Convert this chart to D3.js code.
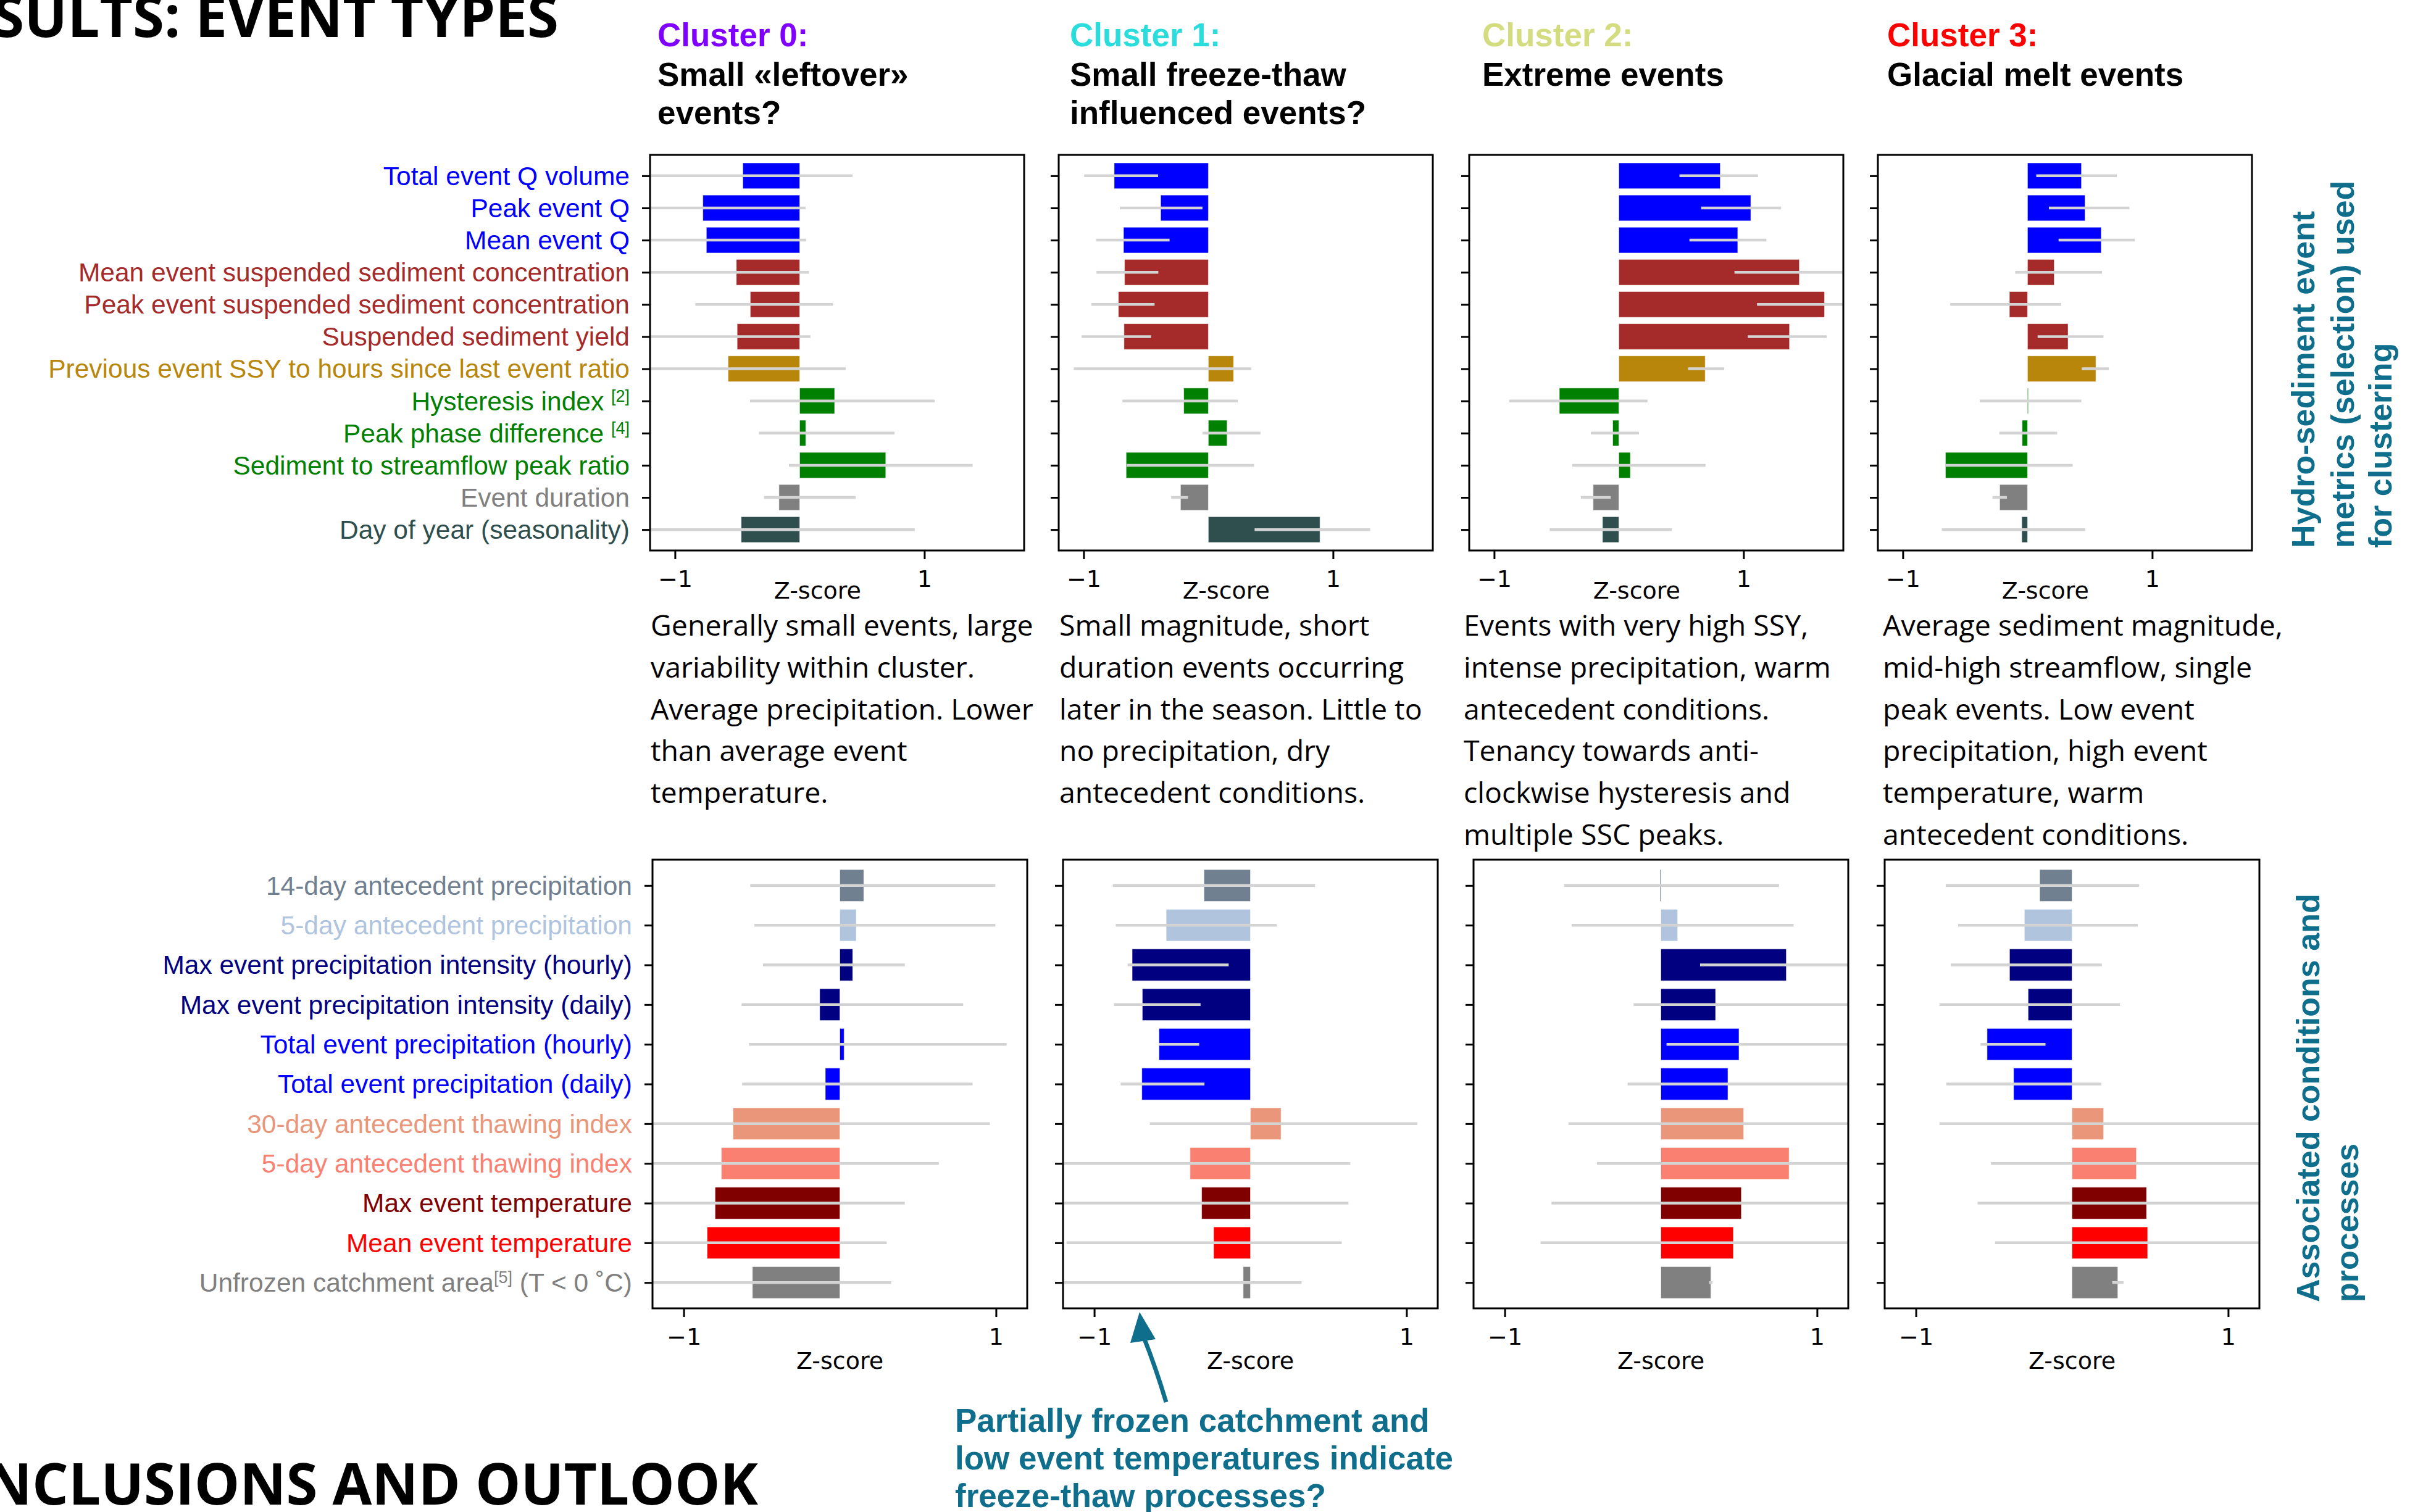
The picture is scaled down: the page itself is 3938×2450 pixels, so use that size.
<!DOCTYPE html>
<html><head><meta charset="utf-8">
<script src="https://cdn.jsdelivr.net/npm/d3@7"></script>
<style>body{margin:0;background:#fff} text{white-space:pre}</style>
</head><body>
<svg id="c" width="3938" height="2450" xmlns="http://www.w3.org/2000/svg"></svg>
<script>
// ---------------- DATA ----------------
const clusterNames = ["Cluster 0:", "Cluster 1:", "Cluster 2:", "Cluster 3:"];
const clusterColors = ["#8000ff", "#2adcdc", "#d4dc80", "#ff0000"];
const clusterTitles = [["Small «leftover»", "events?"], ["Small freeze-thaw", "influenced events?"], ["Extreme events"], ["Glacial melt events"]];
const clusterDescriptions = [
  ["Generally small events, large", "variability within cluster.", "Average precipitation. Lower", "than average event", "temperature."],
  ["Small magnitude, short", "duration events occurring", "later in the season. Little to", "no precipitation, dry", "antecedent conditions."],
  ["Events with very high SSY,", "intense precipitation, warm", "antecedent conditions.", "Tenancy towards anti-", "clockwise hysteresis and", "multiple SSC peaks."],
  ["Average sediment magnitude,", "mid-high streamflow, single", "peak events. Low event", "precipitation, high event", "temperature, warm", "antecedent conditions."]
];

const topMetrics = [
  ["Total event Q volume"], ["Peak event Q"], ["Mean event Q"],
  ["Mean event suspended sediment concentration"], ["Peak event suspended sediment concentration"],
  ["Suspended sediment yield"], ["Previous event SSY to hours since last event ratio"],
  ["Hysteresis index ", "[2]"], ["Peak phase difference ", "[4]"], ["Sediment to streamflow peak ratio"],
  ["Event duration"], ["Day of year (seasonality)"]
];
const topColors = ["blue", "blue", "blue", "brown", "brown", "brown", "darkgoldenrod", "green", "green", "green", "gray", "darkslategray"];
const topMean = [
  [-0.456, -0.776, -0.748, -0.508, -0.396, -0.501, -0.574, 0.280, 0.049, 0.690, -0.166, -0.469],
  [-0.755, -0.382, -0.680, -0.672, -0.721, -0.676, 0.202, -0.197, 0.150, -0.659, -0.223, 0.895],
  [0.813, 1.058, 0.953, 1.447, 1.649, 1.368, 0.692, -0.477, -0.049, 0.092, -0.206, -0.131],
  [0.432, 0.461, 0.591, 0.214, -0.145, 0.325, 0.548, 0.006, -0.043, -0.658, -0.223, -0.046]
];
const topLow = [
  [-1.3, -1.3, -1.3, -1.3, -0.837, -1.3, -1.3, -0.398, -0.327, -0.086, -0.286, -1.3],
  [-0.996, -0.710, -0.899, -0.897, -0.938, -1.017, -1.079, -0.689, -0.047, -0.655, -0.298, 0.371],
  [0.486, 0.660, 0.566, 0.927, 1.108, 1.034, 0.555, -0.880, -0.224, -0.374, -0.305, -0.555],
  [0.070, 0.171, 0.249, -0.099, -0.620, 0.081, 0.435, -0.383, -0.226, -0.658, -0.281, -0.687]
];
const topHigh = [
  [0.424, 0.047, 0.052, 0.075, 0.265, 0.086, 0.370, 1.082, 0.761, 1.387, 0.449, 0.923],
  [-0.403, -0.047, -0.311, -0.401, -0.431, -0.459, 0.345, 0.236, 0.418, 0.367, -0.163, 1.298],
  [1.116, 1.301, 1.183, 1.9, 1.9, 1.667, 0.845, 0.230, 0.161, 0.695, -0.065, 0.424],
  [0.716, 0.817, 0.861, 0.597, 0.270, 0.609, 0.652, 0.432, 0.238, 0.362, -0.165, 0.464]
];

const bottomMetrics = [
  ["14-day antecedent precipitation"], ["5-day antecedent precipitation"],
  ["Max event precipitation intensity (hourly)"], ["Max event precipitation intensity (daily)"],
  ["Total event precipitation (hourly)"], ["Total event precipitation (daily)"],
  ["30-day antecedent thawing index"], ["5-day antecedent thawing index"],
  ["Max event temperature"], ["Mean event temperature"],
  ["Unfrozen catchment area", "[5]", " (T < 0 ˚C)"]
];
const bottomColors = ["slategray", "lightsteelblue", "navy", "navy", "blue", "blue", "darksalmon", "salmon", "maroon", "red", "gray"];
const bottomMean = [
  [0.153, 0.105, 0.082, -0.129, 0.027, -0.093, -0.684, -0.759, -0.799, -0.850, -0.560],
  [-0.297, -0.539, -0.757, -0.692, -0.585, -0.695, 0.196, -0.386, -0.312, -0.235, -0.046],
  [-0.006, 0.107, 0.803, 0.350, 0.500, 0.429, 0.530, 0.821, 0.515, 0.464, 0.320],
  [-0.207, -0.305, -0.400, -0.281, -0.544, -0.374, 0.202, 0.412, 0.477, 0.484, 0.293]
];
const bottomLow = [
  [-0.574, -0.547, -0.492, -0.629, -0.583, -0.626, -1.3, -1.3, -1.3, -1.3, -1.3],
  [-0.881, -0.862, -0.786, -0.874, -0.585, -0.831, -0.644, -1.3, -1.3, -1.178, -1.3],
  [-0.620, -0.572, 0.251, -0.175, 0.036, -0.213, -0.592, -0.409, -0.701, -0.771, 0.309],
  [-0.809, -0.730, -0.777, -0.849, -0.586, -0.805, -0.849, -0.519, -0.605, -0.493, 0.258]
];
const bottomHigh = [
  [0.996, 0.996, 0.416, 0.790, 1.068, 0.850, 0.961, 0.634, 0.416, 0.300, 0.329],
  [0.414, 0.168, -0.139, -0.319, -0.328, -0.294, 1.070, 0.640, 0.628, 0.585, 0.328],
  [0.757, 0.850, 1.3, 1.3, 1.3, 1.3, 1.3, 1.3, 1.3, 1.3, 0.330],
  [0.430, 0.421, 0.191, 0.307, -0.170, 0.188, 1.3, 1.3, 1.3, 1.3, 0.330]
];

const xTicks = [-1, 1];
const axisTitle = "Z-score";
const topSideTitle = ["Hydro-sediment event", "metrics (selection) used", "for clustering"];
const bottomSideTitle = ["Associated conditions and", "processes"];
const annotationLines = ["Partially frozen catchment and", "low event temperatures indicate", "freeze-thaw processes?"];

// ---------------- LAYOUT ----------------
const svg = d3.select("#c");
svg.append("rect").attr("width", 3938).attr("height", 2450).attr("fill", "#fff");
const defs = svg.append("defs");
const TEAL = "#0f6e8c";
const LABEL_FONT = "'Liberation Sans', Arial, sans-serif";

const topLayout = {lefts: [1053, 1715, 2380, 3042], top: 251, width: 606, height: 641, domain: [-1.2, 1.8], zOff: 29, zBase: 970};
const botLayout = {lefts: [1057, 1722, 2387, 3053], top: 1393, width: 607, height: 727, domain: [-1.2, 1.2], zOff: 0, zBase: 2218};

function drawLabel(sel, parts, color) {
  sel.attr("fill", color);
  parts.forEach((p, k) => {
    const t = sel.append("tspan").text(p);
    if (k === 1) t.attr("dy", -14).style("font-size", "27px");
    if (k === 2) t.attr("dy", 14);
  });
}

function drawRow(L, metrics, colors, means, lows, highs, tag) {
  L.lefts.forEach((left, c) => {
    const x = d3.scaleLinear().domain(L.domain).range([left, left + L.width]);
    const y = d3.scalePoint().domain(d3.range(metrics.length)).range([L.top, L.top + L.height]).padding(0.65);
    const bh = y.step() * 0.8;
    const cid = `clip-${tag}-${c}`;
    defs.append("clipPath").attr("id", cid).append("rect")
      .attr("x", left).attr("y", L.top).attr("width", L.width).attr("height", L.height);
    const g = svg.append("g");
    const gc = g.append("g").attr("clip-path", `url(#${cid})`);
    gc.selectAll("rect").data(means[c]).join("rect")
      .attr("x", d => x(Math.min(0, d)))
      .attr("width", d => Math.abs(x(d) - x(0)))
      .attr("y", (d, i) => y(i) - bh / 2)
      .attr("height", bh)
      .attr("fill", (d, i) => colors[i])
      .attr("stroke", "#fff").attr("stroke-opacity", 0.5).attr("stroke-width", 1);
    gc.selectAll("line").data(means[c]).join("line")
      .attr("x1", (d, i) => x(lows[c][i])).attr("x2", (d, i) => x(highs[c][i]))
      .attr("y1", (d, i) => y(i)).attr("y2", (d, i) => y(i))
      .attr("stroke", "#d3d3d3").attr("stroke-width", 4.5);
    g.append("rect").attr("x", left).attr("y", L.top).attr("width", L.width).attr("height", L.height)
      .attr("fill", "none").attr("stroke", "#000").attr("stroke-width", 3);
    const ax = g.append("g").attr("transform", `translate(0,${L.top + L.height})`)
      .call(d3.axisBottom(x).tickValues(xTicks).tickSize(14).tickPadding(18).tickFormat(d3.format("d")));
    ax.select(".domain").remove();
    ax.selectAll(".tick line").attr("stroke", "#000").attr("stroke-width", 3);
    ax.selectAll(".tick text").attr("fill", "#000").style("font", "38px 'DejaVu Sans'");
    const ay = g.append("g").attr("transform", `translate(${left},0)`)
      .call(d3.axisLeft(y).tickSize(13).tickFormat(""));
    ay.select(".domain").remove();
    ay.selectAll(".tick line").attr("stroke", "#000").attr("stroke-width", 3);
    g.append("text").attr("x", x(0) + L.zOff).attr("y", L.zBase).attr("text-anchor", "middle")
      .style("font", "38px 'DejaVu Sans'").attr("fill", "#000").text(axisTitle);
    if (c === 0) {
      metrics.forEach((parts, i) => {
        const t = g.append("text").attr("x", left - 33).attr("y", y(i)).attr("dy", "0.35em")
          .attr("text-anchor", "end").style("font", `42.5px ${LABEL_FONT}`);
        drawLabel(t, parts, colors[i]);
      });
    }
  });
}

drawRow(topLayout, topMetrics, topColors, topMean, topLow, topHigh, "top");
drawRow(botLayout, bottomMetrics, bottomColors, bottomMean, bottomLow, bottomHigh, "bot");

// headers
const headX = [1065, 1733, 2401, 3057];
clusterNames.forEach((n, c) => {
  svg.append("text").attr("x", headX[c]).attr("y", 75).style("font", `bold 53px ${LABEL_FONT}`)
    .attr("fill", clusterColors[c]).text(n);
  clusterTitles[c].forEach((line, k) => {
    svg.append("text").attr("x", headX[c]).attr("y", 139 + k * 62).style("font", `bold 53px ${LABEL_FONT}`)
      .attr("fill", "#000").text(line);
  });
});

// descriptions
const descX = [1054, 1716, 2371, 3050];
clusterDescriptions.forEach((lines, c) => {
  lines.forEach((line, k) => {
    svg.append("text").attr("x", descX[c]).attr("y", 1030 + k * 67.8)
      .style("font", "46.5px 'Open Sans'").attr("fill", "#000").text(line);
  });
});

// side titles
const topSideX = [3749, 3813, 3874];
topSideTitle.forEach((line, k) => {
  svg.append("text").attr("transform", `translate(${topSideX[k]},888) rotate(-90)`)
    .style("font", `bold 52px ${LABEL_FONT}`).attr("fill", TEAL).text(line);
});
const botSideX = [3757, 3820];
bottomSideTitle.forEach((line, k) => {
  svg.append("text").attr("transform", `translate(${botSideX[k]},2110) rotate(-90)`)
    .style("font", `bold 52px ${LABEL_FONT}`).attr("fill", TEAL).text(line);
});

// annotation
annotationLines.forEach((line, k) => {
  svg.append("text").attr("x", 1547).attr("y", 2320 + k * 61)
    .style("font", `bold 53px ${LABEL_FONT}`).attr("fill", TEAL).text(line);
});
svg.append("path").attr("d", "M1889,2272 Q1872,2215 1852,2165")
  .attr("fill", "none").attr("stroke", TEAL).attr("stroke-width", 7);
svg.append("path").attr("d", "M1846,2126 L1872,2170 L1831,2176 Z").attr("fill", TEAL);

// section titles (cut off at page edge, as in the poster)
svg.append("text").attr("x", 905).attr("y", 60).attr("text-anchor", "end")
  .style("font", "bold 92.5px 'Open Sans'").attr("fill", "#000").text("RESULTS: EVENT TYPES");
svg.append("text").attr("x", 1228).attr("y", 2438).attr("text-anchor", "end")
  .style("font", "bold 92.5px 'Open Sans'").attr("fill", "#000").text("CONCLUSIONS AND OUTLOOK");
</script>
</body></html>
